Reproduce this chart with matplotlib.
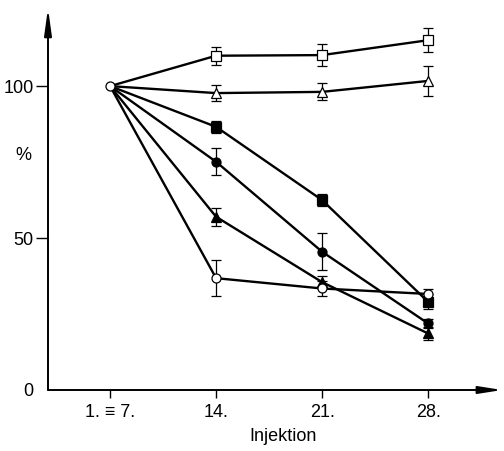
import matplotlib.pyplot as plt

# Injection days and tick labels
days = [7, 14, 21, 28]
day_labels = ["1. \u2261 7.", "14.", "21.", "28."]

# Percent values per series, first point is the common start
open_square = [100, 110.0, 110.2, 115.1]
open_square_err = [0, 3.0, 3.7, 4.0]
open_triangle = [100, 97.7, 98.1, 101.7]
open_triangle_err = [0, 2.5, 2.8, 5.0]
filled_square = [100, 86.6, 62.5, 29.0]
filled_square_err = [0, 2.0, 2.0, 2.5]
filled_circle = [100, 75.1, 45.5, 21.9]
filled_circle_err = [0, 4.5, 6.0, 1.5]
filled_triangle = [100, 57.0, 35.5, 18.6]
filled_triangle_err = [0, 3.0, 2.0, 2.0]
open_circle = [100, 36.8, 33.4, 31.6]
open_circle_err = [0, 6.0, 2.5, 1.5]

yticks = [0, 50, 100]

plt.rcParams['font.family'] = ['Liberation Sans', 'DejaVu Sans']

fig = plt.figure(figsize=(5.04, 4.51), dpi=100)
ax = fig.add_axes([48 / 504, 61 / 451, 452 / 504, 382 / 451])
ax.set_xlim(2.9, 32.75)
ax.set_ylim(0, 125.7)

series = [
    (open_square, open_square_err, "s", "white"),
    (open_triangle, open_triangle_err, "^", "white"),
    (filled_square, filled_square_err, "s", "black"),
    (filled_circle, filled_circle_err, "o", "black"),
    (filled_triangle, filled_triangle_err, "^", "black"),
    (open_circle, open_circle_err, "o", "white"),
]

for values, err, marker, face in series:
    ax.plot(days, values, color="black", lw=1.7, zorder=2)
    ax.errorbar(days[1:], values[1:], yerr=err[1:], fmt="none", ecolor="black",
                elinewidth=0.9, capsize=3.5, capthick=0.9, zorder=3)
    ax.plot(days[1:], values[1:], linestyle="none", marker=marker, markersize=6.5,
            markerfacecolor=face, markeredgecolor="black", markeredgewidth=0.9, zorder=4)

# common starting point
ax.plot(days[0], open_circle[0], linestyle="none", marker="o", markersize=6.5,
        markerfacecolor="white", markeredgecolor="black", markeredgewidth=0.9, zorder=5)

# axes drawn as arrows
for s in ax.spines.values():
    s.set_visible(False)
ax.annotate("", xy=(0, 1.0), xytext=(0, 0), xycoords="axes fraction",
            arrowprops=dict(arrowstyle="-|>,head_length=1.6,head_width=0.22",
                            lw=1.4, color="black", shrinkA=0, shrinkB=0))
ax.annotate("", xy=(1.005, 0), xytext=(0, 0), xycoords="axes fraction",
            arrowprops=dict(arrowstyle="-|>,head_length=1.4,head_width=0.22",
                            lw=1.4, color="black", shrinkA=0, shrinkB=0))

ax.set_xticks(days)
ax.set_xticklabels(day_labels, fontsize=13)
ax.set_yticks(yticks)
ax.set_yticklabels([str(t) for t in yticks], fontsize=13)
ax.tick_params(axis="x", direction="out", length=6, width=1.0, pad=4)
ax.tick_params(axis="y", direction="out", length=9, width=1.0, pad=1.5)
ax.yaxis.get_major_ticks()[0].tick1line.set_visible(False)

ax.text(-0.055, 77, "%", fontsize=13, ha="center", va="center",
        transform=ax.get_yaxis_transform())
ax.set_xlabel("Injektion", fontsize=13, labelpad=1)
ax.xaxis.set_label_coords(0.52, -0.1)

fig.savefig("out.png", dpi=100)
